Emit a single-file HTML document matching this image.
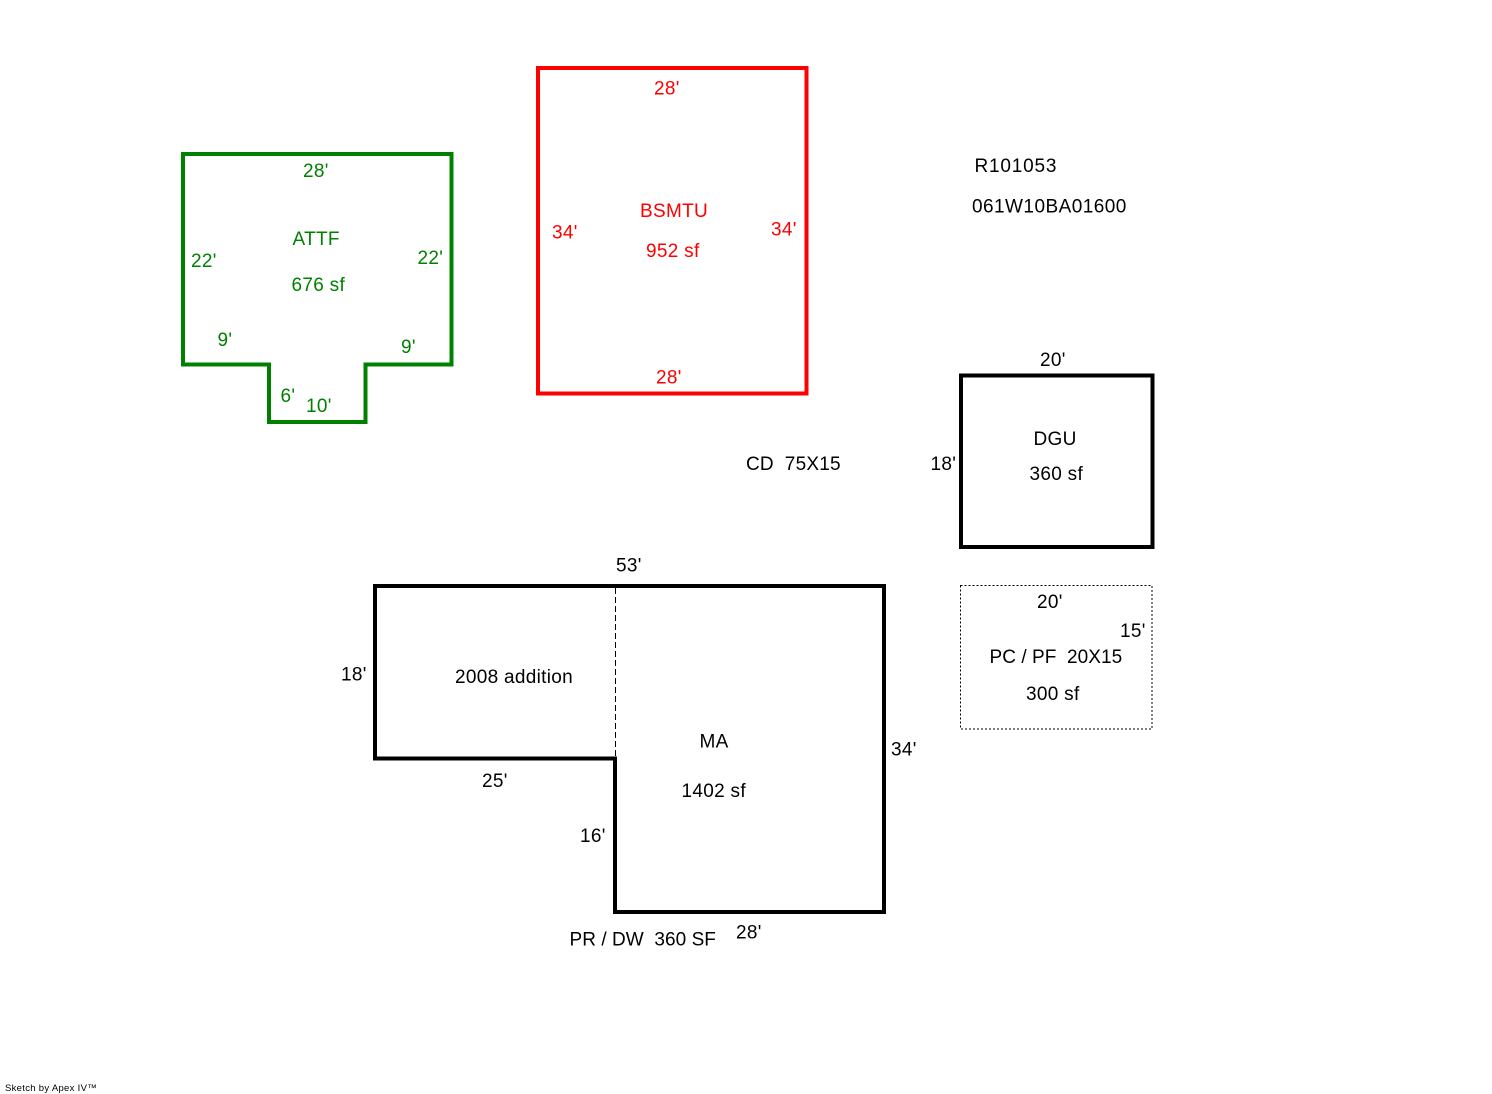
<!DOCTYPE html>
<html>
<head>
<meta charset="utf-8">
<style>
html,body{margin:0;padding:0;background:#fff;}
svg{display:block;}
text{font-family:"Liberation Sans",Arial,sans-serif;font-size:19px;letter-spacing:0.3px;}
.g{fill:#008000;}
.r{fill:#ff0000;}
.k{fill:#000;}
</style>
</head>
<body>
<svg width="1492" height="1094" viewBox="0 0 1492 1094" xmlns="http://www.w3.org/2000/svg">
<rect width="1492" height="1094" fill="#fff"/>

<!-- ATTF -->
<path d="M183,154 L451.5,154 L451.5,364.5 L365.5,364.5 L365.5,422 L269,422 L269,364.5 L183,364.5 Z" fill="none" stroke="#008000" stroke-width="4" stroke-linejoin="miter"/>
<text class="g" x="303" y="177">28'</text>
<text class="g" x="292.5" y="245">ATTF</text>
<text class="g" x="191" y="267">22'</text>
<text class="g" x="417.5" y="264">22'</text>
<text class="g" x="291.5" y="291">676 sf</text>
<text class="g" x="217.5" y="346">9'</text>
<text class="g" x="401" y="353">9'</text>
<text class="g" x="280.5" y="402">6'</text>
<text class="g" x="306" y="412">10'</text>

<!-- BSMTU -->
<rect x="538" y="68" width="268.5" height="325.5" fill="none" stroke="#ff0000" stroke-width="4"/>
<text class="r" x="654" y="94.5">28'</text>
<text class="r" x="640" y="217">BSMTU</text>
<text class="r" x="552" y="238.5">34'</text>
<text class="r" x="771" y="235.5">34'</text>
<text class="r" x="646" y="257">952 sf</text>
<text class="r" x="656" y="383.5">28'</text>

<!-- IDs -->
<text class="k" x="974.5" y="172" style="letter-spacing:0.8px">R101053</text>
<text class="k" x="972" y="212.5" style="letter-spacing:0.45px">061W10BA01600</text>

<!-- DGU -->
<rect x="961" y="375.5" width="191.5" height="171.5" fill="none" stroke="#000" stroke-width="4"/>
<text class="k" x="1040" y="366">20'</text>
<text class="k" x="1033.5" y="445">DGU</text>
<text class="k" x="1029.5" y="480">360 sf</text>
<text class="k" x="930.5" y="470">18'</text>
<text class="k" x="746" y="470" style="letter-spacing:0.2px">CD&#160;&#160;75X15</text>

<!-- PC / PF -->
<rect x="960.5" y="585.5" width="191.5" height="143.5" fill="none" stroke="#000" stroke-width="1" stroke-dasharray="2,2"/>
<text class="k" x="1037" y="608">20'</text>
<text class="k" x="1120" y="637">15'</text>
<text class="k" x="989.5" y="663" style="letter-spacing:0.05px">PC / PF&#160;&#160;20X15</text>
<text class="k" x="1026" y="700">300 sf</text>

<!-- MA -->
<path d="M375,586 L884,586 L884,912 L615,912 L615,758.5 L375,758.5 Z" fill="none" stroke="#000" stroke-width="4" stroke-linejoin="miter"/>
<line x1="615.5" y1="588" x2="615.5" y2="757" stroke="#000" stroke-width="1" stroke-dasharray="6,3"/>
<text class="k" x="616" y="571.5">53'</text>
<text class="k" x="341" y="680.5">18'</text>
<text class="k" x="455" y="683">2008 addition</text>
<text class="k" x="482" y="787">25'</text>
<text class="k" x="699.5" y="747.5">MA</text>
<text class="k" x="891" y="755.5">34'</text>
<text class="k" x="681.5" y="797">1402 sf</text>
<text class="k" x="580" y="842">16'</text>
<text class="k" x="569.5" y="945.5" style="letter-spacing:0.05px">PR / DW&#160;&#160;360 SF</text>
<text class="k" x="736" y="938.5">28'</text>

<!-- footer -->
<text class="k" x="5" y="1091" style="font-size:9.5px;letter-spacing:0.3px">Sketch by Apex IV™</text>
</svg>
</body>
</html>
